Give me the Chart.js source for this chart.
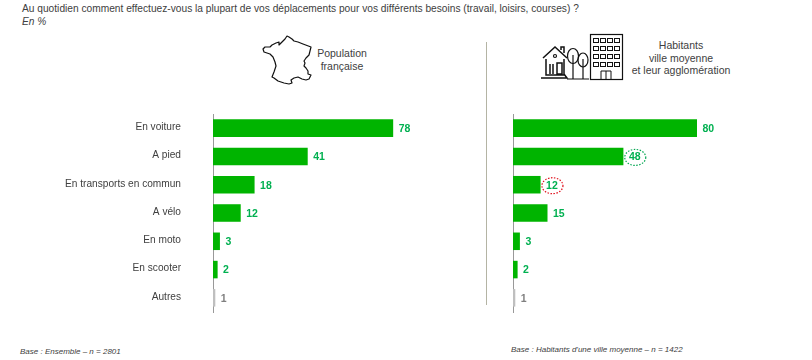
<!DOCTYPE html>
<html lang="fr">
<head>
<meta charset="utf-8">
<title>Déplacements</title>
<script src="https://cdn.jsdelivr.net/npm/chart.js@4/dist/chart.umd.min.js"></script>
<style>
html, body { margin: 0; padding: 0; background: #fff; }
body { position: relative; width: 812px; height: 360px; overflow: hidden; font-family: "Liberation Sans", Arial, sans-serif; color: #404040; }
.txt { position: absolute; white-space: nowrap; font-size: 10.5px; line-height: 13px; }
.titre { font-size: 10.2px; }
.centre { text-align: center; transform: translateX(-50%); }
.base { font-size: 8px; font-style: italic; line-height: 10px; }
canvas { position: absolute; top: 0; }
#icones { position: absolute; left: 0; top: 0; }
#separateur { position: absolute; left: 486px; top: 42px; width: 1px; height: 263px; background: #b4b4a4; }
</style>
</head>
<body>
<div class="txt titre" style="left:22px;top:2px">Au quotidien comment effectuez-vous la plupart de vos déplacements pour vos différents besoins (travail, loisirs, courses) ?</div>
<div class="txt titre" style="left:22px;top:15px;font-style:italic">En %</div>
<div class="txt centre" style="left:342px;top:47px;line-height:13px">Population<br>française</div>
<div class="txt centre" style="left:681px;top:39px;line-height:12.5px">Habitants<br>ville moyenne<br>et leur agglomération</div>
<div class="txt base" style="left:20px;top:347px">Base : Ensemble – n = 2801</div>
<div class="txt base" style="left:511px;top:345px">Base : Habitants d'une ville moyenne – n = 1422</div>
<div id="separateur"></div>

<svg id="icones" width="812" height="360" fill="none" stroke="#111" stroke-width="1.2">
    <!-- carte de France -->
    <path stroke-linejoin="round" d="M287 36 L289 37 L292 39 L294 41 L298 42 L303 44 L311 47 L310 51 L309 55 L306 58 L304 61 L305 63 L304 66 L306 68 L308 71 L308 74 L311 75 L309 79 L306 80 L302 79 L298 77 L294 78 L291 80 L292 83 L289 84 L284 83 L278 81 L274 78 L272 77 L274 72 L276 66 L275 62 L273 57 L270 54 L264 52 L263 49 L265 47 L270 47 L272 45 L276 43 L279 42 L279 45 L283 41 L285 39 Z"/>
    <!-- maison -->
    <path stroke-width="1.5" d="M543 58 L555 47 L567 58 M546 59 V75 H564 V59 M561 50 V47 H564 V53 M541 78 H567 L564 74 M550 64 V74 M553 64 V74 M557 63 V74 H562 V63 Z"/>
    <circle cx="555" cy="56" r="1.5"/>
    <!-- arbres -->
    <path d="M573 79 V55 M583 79 V59 M567 79 H589"/>
    <ellipse cx="573" cy="56" rx="5.5" ry="7.5"/>
    <ellipse cx="583" cy="60" rx="5" ry="7"/>
    <!-- immeuble -->
    <g id="immeuble">
        <rect x="590.5" y="34.5" width="32" height="45"/>
        <path d="M601 79 V71 H611 V79 M606 71 V79" stroke-width="1"/>
    </g>
</svg>

<canvas id="graphFrance"></canvas>
<canvas id="graphVilles"></canvas>

<script>
const categories = ["En voiture", "A pied", "En transports en commun", "A vélo", "En moto", "En scooter", "Autres"];
const valeursFrance = [78, 41, 18, 12, 3, 2, 1];
const valeursVilles = [80, 48, 12, 15, 3, 2, 1];
const couleursBarres = ["#00b400", "#00b400", "#00b400", "#00b400", "#00b400", "#00b400", "#bfbfbf"];
const couleursTextes = ["#00b050", "#00b050", "#00b050", "#00b050", "#00b050", "#00b050", "#7f7f7f"];
// cercles pointilles autour de certaines valeurs
const cerclesVilles = [null, "#00a650", "#e0101c", null, null, null, null];

// fenetres de l'immeuble
let immeuble = document.getElementById("immeuble");
for (let l = 0; l < 4; l++) {
    for (let c = 0; c < 4; c++) {
        let r = document.createElementNS("http://www.w3.org/2000/svg", "rect");
        r.setAttribute("x", 593.5 + c * 7);
        r.setAttribute("y", 38.5 + l * 8);
        r.setAttribute("width", 5);
        r.setAttribute("height", 4);
        r.setAttribute("stroke-width", 1);
        immeuble.appendChild(r);
    }
}

// valeurs au bout des barres
const pluginValeurs = {
    id: "valeurs",
    afterDatasetsDraw(chart, args, opts) {
        const ctx = chart.ctx;
        const barres = chart.getDatasetMeta(0).data;
        ctx.save();
        ctx.font = "bold 10.5px 'Liberation Sans', Arial, sans-serif";
        ctx.textBaseline = "middle";
        barres.forEach(function (barre, i) {
            let texte = String(chart.data.datasets[0].data[i]);
            let x = barre.x + 5.5;
            let y = barre.y + 1;
            ctx.fillStyle = couleursTextes[i];
            ctx.fillText(texte, x, y);
            if (opts.cercles && opts.cercles[i]) {
                let largeur = ctx.measureText(texte).width;
                ctx.beginPath();
                ctx.ellipse(x + largeur / 2 + 0.5, y, 10.5, 8, 0, 0, Math.PI * 2);
                ctx.strokeStyle = opts.cercles[i];
                ctx.lineWidth = 1.2;
                ctx.setLineDash([1.5, 1.5]);
                ctx.stroke();
                ctx.setLineDash([]);
            }
        });
        ctx.restore();
    }
};

function creerGraph(id, valeurs, gauche, largeur, largeurAxe, afficherLabels, cercles) {
    let canvas = document.getElementById(id);
    canvas.style.left = gauche + "px";
    canvas.style.width = largeur + "px";
    canvas.style.height = "360px";
    canvas.width = largeur;
    canvas.height = 360;
    return new Chart(canvas, {
        type: "bar",
        data: {
            labels: categories,
            datasets: [{
                data: valeurs,
                backgroundColor: couleursBarres,
                borderWidth: 0,
                categoryPercentage: 1,
                barPercentage: 0.62
            }]
        },
        options: {
            indexAxis: "y",
            responsive: false,
            animation: false,
            layout: { padding: { top: 114, bottom: 48, left: 0, right: 0 } },
            plugins: {
                legend: { display: false },
                tooltip: { enabled: false },
                valeurs: { cercles: cercles }
            },
            scales: {
                x: { display: false, min: 0, max: 100 },
                y: {
                    afterFit: function (axe) { axe.width = largeurAxe; },
                    grid: { display: false, drawTicks: false },
                    border: { display: true, color: "#999999", width: 1 },
                    ticks: {
                        display: afficherLabels,
                        padding: 32,
                        labelOffset: -1,
                        autoSkip: false,
                        color: "#404040",
                        font: { family: "'Liberation Sans', Arial, sans-serif", size: 10.15 }
                    }
                }
            }
        },
        plugins: [pluginValeurs]
    });
}

creerGraph("graphFrance", valeursFrance, 0, 444, 213, true, null);
creerGraph("graphVilles", valeursVilles, 490, 253, 23, false, cerclesVilles);
</script>
</body>
</html>
